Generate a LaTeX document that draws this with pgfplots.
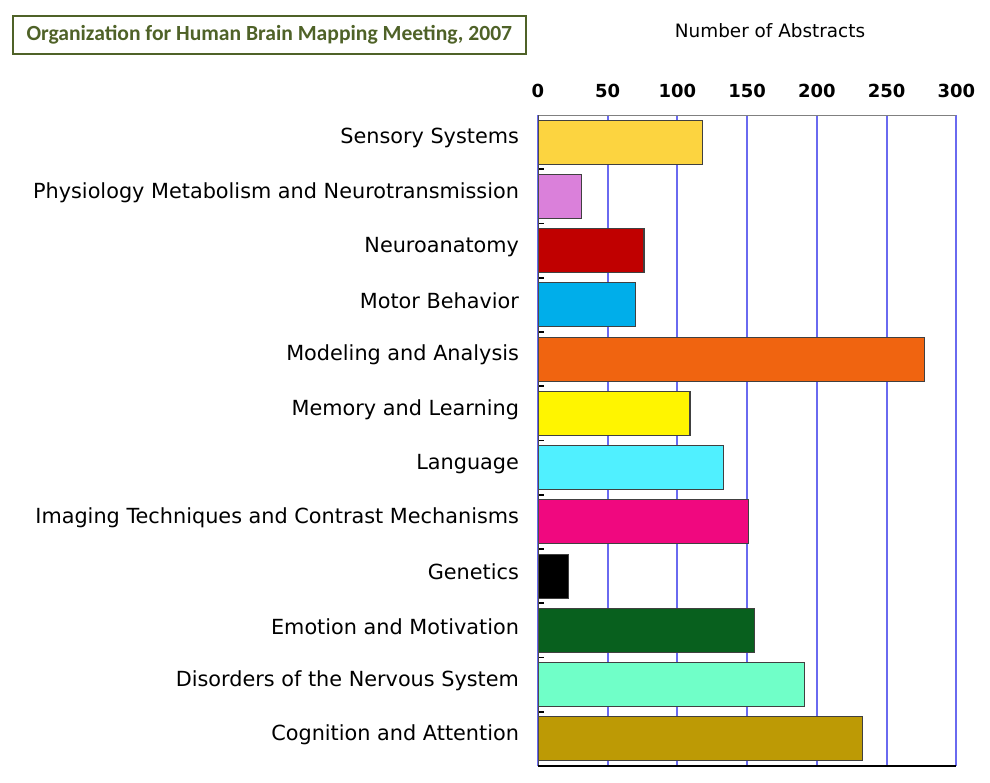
\documentclass[border=0pt]{standalone}
\usepackage{pgfplots}
\pgfplotsset{compat=1.18}
\usepackage{fontspec}
\setmainfont{DejaVu Sans}
\newfontfamily\titlefont{Carlito}

\definecolor{titlegreen}{HTML}{4F6228}
\definecolor{gridblue}{HTML}{6A6AF0}
\definecolor{bardraw}{HTML}{404040}
\definecolor{cSens}{HTML}{FCD440}
\definecolor{cPhys}{HTML}{DA80DA}
\definecolor{cNeur}{HTML}{C00000}
\definecolor{cMoto}{HTML}{00AEEA}
\definecolor{cMode}{HTML}{F06410}
\definecolor{cMemo}{HTML}{FFF500}
\definecolor{cLang}{HTML}{50F0FF}
\definecolor{cImag}{HTML}{F0087F}
\definecolor{cGene}{HTML}{000000}
\definecolor{cEmot}{HTML}{08601E}
\definecolor{cDiso}{HTML}{70FFC8}
\definecolor{cCogn}{HTML}{BD9A05}

\begin{document}
\begin{tikzpicture}
\useasboundingbox (0pt,0pt) rectangle (495pt,-391pt);

% title box
\node[draw=titlegreen, line width=0.8pt, minimum width=256.5pt, minimum height=19pt,
      anchor=north west, inner sep=0pt, text=titlegreen,
      font=\titlefont\bfseries\fontsize{10.8}{13}\selectfont] at (6pt,-7.5pt)
      {Organization for Human Brain Mapping Meeting, 2007};

\node[font=\fontsize{9.2}{11}\selectfont] at (385pt,-15.5pt) {Number of Abstracts};

\begin{axis}[
  at={(269pt,-383pt)}, anchor=south west,
  scale only axis, width=209.15pt, height=325.5pt,
  xmin=0, xmax=300, ymin=-0.5, ymax=11.5, y dir=reverse,
  axis line style={draw=none},
  /pgf/number format/assume math mode=true,
  xtick={0,50,...,300}, xticklabel pos=upper,
  xmajorgrids, major x grid style={color=gridblue, line width=1pt},
  x tick label style={font=\bfseries\fontsize{9}{10}\selectfont, yshift=5pt},
  ytick={0,...,11}, ytick pos=left,
  minor ytick={0.5,1.5,...,10.5},
  major tick length=0pt, minor tick length=3pt,
  minor y tick style={black, line width=0.8pt},
  yticklabels={Sensory Systems, Physiology Metabolism and Neurotransmission,
    Neuroanatomy, Motor Behavior, Modeling and Analysis, Memory and Learning,
    Language, Imaging Techniques and Contrast Mechanisms, Genetics,
    Emotion and Motivation, Disorders of the Nervous System, Cognition and Attention},
  y tick label style={font=\fontsize{10.4}{12}\selectfont, xshift=-6pt, yshift=2pt},
  bar width=22pt,
  every axis plot/.append style={xbar, bar shift=0pt, draw=bardraw, line width=0.6pt},
]
\addplot[fill=cSens] coordinates {(118,0)};
\addplot[fill=cPhys] coordinates {(31,1)};
\addplot[fill=cNeur] coordinates {(76,2)};
\addplot[fill=cMoto] coordinates {(70,3)};
\addplot[fill=cMode] coordinates {(277,4)};
\addplot[fill=cMemo] coordinates {(109,5)};
\addplot[fill=cLang] coordinates {(133,6)};
\addplot[fill=cImag] coordinates {(151,7)};
\addplot[fill=cGene] coordinates {(22,8)};
\addplot[fill=cEmot] coordinates {(155,9)};
\addplot[fill=cDiso] coordinates {(191,10)};
\addplot[fill=cCogn] coordinates {(233,11)};
\draw[gray, line width=1pt] (axis cs:0,-0.5) -- (axis cs:300,-0.5);
\draw[black!70, line width=0.8pt] (axis cs:0,-0.5) -- (axis cs:0,11.5);
\draw[black, line width=1pt] (axis cs:0,11.5) -- (axis cs:300,11.5);
\end{axis}
\end{tikzpicture}
\end{document}
